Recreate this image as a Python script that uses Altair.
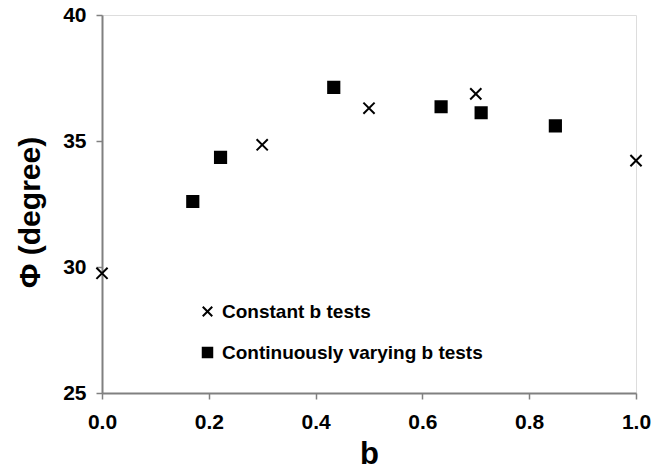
import altair as alt
import pandas as pd

const_b = [0.0, 0.3, 0.5, 0.7, 1.0]
const_phi = [29.75, 34.85, 36.3, 36.87, 34.22]
var_b = [0.17, 0.222, 0.434, 0.635, 0.71, 0.849]
var_phi = [32.6, 34.35, 37.13, 36.36, 36.12, 35.6]
series_names = ["Constant b tests", "Continuously varying b tests"]
x_ticks = [0.0, 0.2, 0.4, 0.6, 0.8, 1.0]
y_ticks = [25, 30, 35, 40]

rows = []
for b, p in zip(const_b, const_phi):
    rows.append({"b": b, "phi": p, "series": series_names[0]})
for b, p in zip(var_b, var_phi):
    rows.append({"b": b, "phi": p, "series": series_names[1]})
df = pd.DataFrame(rows)

FONT = "Liberation Sans"
GRAY = "#808080"

legend = alt.Legend(title=None, orient="none", legendX=96, legendY=287,
                    labelFontSize=19, labelFont=FONT, labelFontWeight="bold",
                    labelColor="black", labelOffset=5, labelLimit=500,
                    symbolSize=90, symbolStrokeWidth=2, rowPadding=21)

chart = alt.Chart(df).mark_point(size=125, strokeWidth=2, opacity=1).encode(
    x=alt.X("b:Q", title="b",
            scale=alt.Scale(domain=[0, 1], nice=False, zero=False),
            axis=alt.Axis(values=x_ticks, format=".1f", grid=False, labelFlush=False,
                          labelFontSize=21, labelFont=FONT, labelFontWeight="bold",
                          labelColor="black", labelPadding=12,
                          titleFontSize=31, titleFont=FONT, titleFontWeight="bold",
                          titleColor="black", titlePadding=7,
                          tickColor=GRAY, tickSize=6, tickWidth=1.5,
                          domainColor=GRAY, domainWidth=2)),
    y=alt.Y("phi:Q", title="Φ (degree)",
            scale=alt.Scale(domain=[25, 40], nice=False, zero=False),
            axis=alt.Axis(values=y_ticks, grid=False, labelFlush=False,
                          labelFontSize=21, labelFont=FONT, labelFontWeight="bold",
                          labelColor="black", labelPadding=10,
                          titleFontSize=30, titleFont=FONT, titleFontWeight="bold",
                          titleColor="black", titlePadding=17, titleY=197,
                          tickColor=GRAY, tickSize=6, tickWidth=1.5,
                          domainColor=GRAY, domainWidth=2)),
    shape=alt.Shape("series:N",
                    scale=alt.Scale(domain=series_names,
                                    range=["M-1,-1L1,1M-1,1L1,-1", "square"]),
                    legend=legend),
    fill=alt.Fill("series:N",
                  scale=alt.Scale(domain=series_names, range=["transparent", "black"]),
                  legend=legend),
    stroke=alt.Stroke("series:N",
                      scale=alt.Scale(domain=series_names, range=["black", "black"]),
                      legend=legend),
).properties(
    width=534, height=378,
    autosize=alt.AutoSizeParams(type="none"),
    padding={"left": 102, "top": 15, "right": 18, "bottom": 79},
).configure_view(stroke=GRAY, strokeWidth=2).configure(background="white")

chart.save("out.html", embed_options={"renderer": "svg", "actions": False})
